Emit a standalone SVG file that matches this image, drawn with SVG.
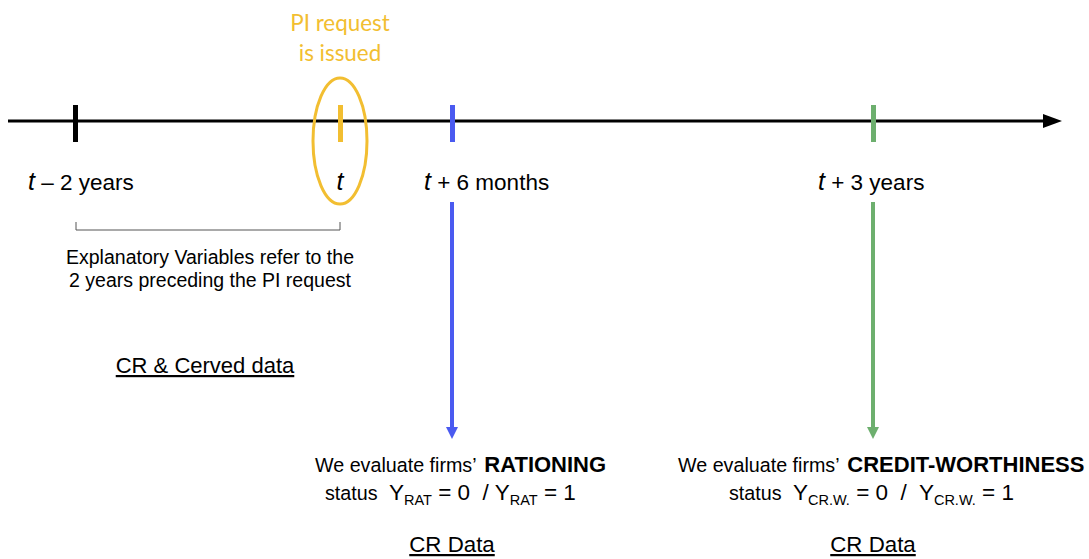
<svg xmlns="http://www.w3.org/2000/svg" width="1089" height="559" viewBox="0 0 1089 559">
<style>
.t{font-family:"Liberation Sans",Arial,sans-serif;fill:#000}
.it{font-style:italic}
.y{font-family:Lato,"Open Sans",sans-serif;fill:#F2BE31;font-size:22.4px}
.u{text-decoration:underline}
.pre{white-space:pre}
</style>
<rect width="1089" height="559" fill="#fff"/>
<g id="connectors">
<line x1="8" y1="121" x2="1045" y2="121" stroke="#000" stroke-width="3"/>
<path d="M1043,114 L1062,121 L1043,128 z" fill="#000"/>
<path d="M452,202 V428" stroke="#4A5AF0" stroke-width="4"/>
<path d="M446,427 L452,439 L458,427 z" fill="#4A5AF0"/>
<path d="M873,202 V428" stroke="#6DAF6E" stroke-width="4"/>
<path d="M867,427 L873,439 L879,427 z" fill="#6DAF6E"/>
<path d="M76,222 V230 H340 V222" fill="none" stroke="#555" stroke-width="1"/>
</g>
<g id="tick-t-2">
<rect x="73" y="105" width="5" height="37" fill="#000"/>
<text class="t" x="28" y="190" font-size="22.5"><tspan class="it" font-size="25">t</tspan> – 2 years</text>
</g>
<g id="tick-t">
<rect x="338" y="105" width="5" height="37" fill="#F2BE31"/>
<ellipse cx="340" cy="141" rx="27" ry="63" fill="none" stroke="#F2BE31" stroke-width="3"/>
<text class="t it" x="340" y="190" font-size="25" text-anchor="middle">t</text>
<text class="y" x="340" y="31" text-anchor="middle">PI request</text>
<text class="y" x="340" y="61" text-anchor="middle">is issued</text>
</g>
<g id="tick-t6m">
<rect x="450" y="105" width="5" height="37" fill="#4A5AF0"/>
<text class="t" x="424" y="190" font-size="22.5"><tspan class="it" font-size="25">t</tspan> + 6 months</text>
</g>
<g id="tick-t3y">
<rect x="871" y="105" width="5" height="37" fill="#6DAF6E"/>
<text class="t" x="818" y="190" font-size="22.5"><tspan class="it" font-size="25">t</tspan> + 3 years</text>
</g>
<g id="explanatory">
<text class="t" x="210" y="264" font-size="19.5" text-anchor="middle">Explanatory Variables refer to the</text>
<text class="t" x="210" y="287" font-size="19.5" text-anchor="middle">2 years preceding the PI request</text>
<text class="t u" x="205" y="373" font-size="22" text-anchor="middle">CR &amp; Cerved data</text>
</g>
<g id="rationing">
<text class="t" x="315" y="472" font-size="19.7">We evaluate firms’ <tspan font-weight="bold" font-size="22" dx="3">RATIONING</tspan></text>
<text class="t pre" x="325" y="500" font-size="19.7">status <tspan font-size="22.5" dx="6">Y</tspan><tspan font-size="14.5" dy="5">RAT</tspan><tspan font-size="22.5" dy="-5"> = 0  / Y</tspan><tspan font-size="14.5" dy="5">RAT</tspan><tspan font-size="22.5" dy="-5"> = 1</tspan></text>
<text class="t u" x="452" y="552" font-size="22.3" text-anchor="middle">CR Data</text>
</g>
<g id="creditworthiness">
<text class="t" x="678" y="472" font-size="19.7">We evaluate firms’ <tspan font-weight="bold" font-size="22" dx="3">CREDIT-WORTHINESS</tspan></text>
<text class="t pre" x="729" y="500" font-size="19.7">status <tspan font-size="22.5" dx="6">Y</tspan><tspan font-size="14.5" dy="5">CR.W.</tspan><tspan font-size="22.5" dy="-5"> = 0  /  Y</tspan><tspan font-size="14.5" dy="5">CR.W.</tspan><tspan font-size="22.5" dy="-5"> = 1</tspan></text>
<text class="t u" x="873" y="552" font-size="22.3" text-anchor="middle">CR Data</text>
</g>
</svg>
